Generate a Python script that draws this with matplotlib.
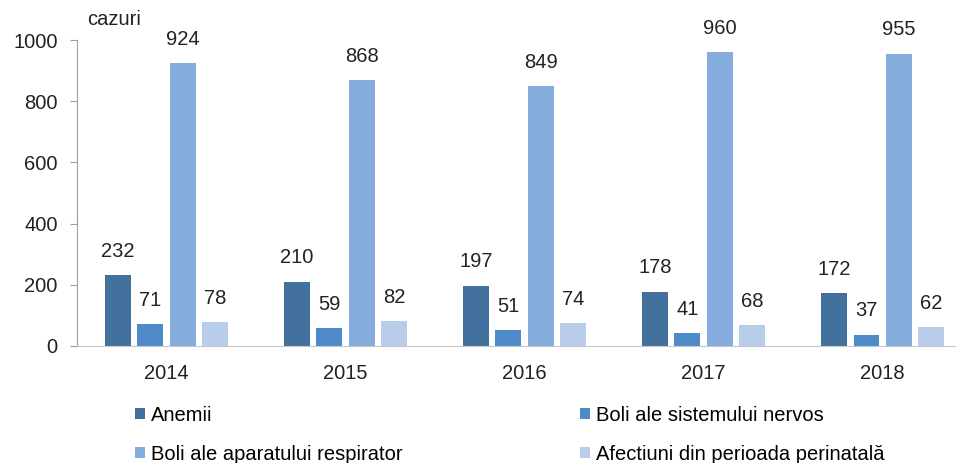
import numpy as np
import matplotlib.pyplot as plt

plt.rcParams['font.family'] = ['Liberation Sans', 'DejaVu Sans']

years = ['2014', '2015', '2016', '2017', '2018']
anemii = [232, 210, 197, 178, 172]
nervos = [71, 59, 51, 41, 37]
respirator = [924, 868, 849, 960, 955]
perinatal = [78, 82, 74, 68, 62]
labels = ['Anemii', 'Boli ale sistemului nervos',
          'Boli ale aparatului respirator', 'Afectiuni din perioada perinatală']
colors = ['#41719c', '#4e8ac8', '#84acdc', '#b8cde9']

fs = 14.5
fig = plt.figure(figsize=(9.56, 4.63), dpi=100)
ax = fig.add_axes([0.0805, 0.2527, 0.9195, 0.6609])

x = np.arange(len(years))
w = 0.145
step = 0.18
series = [anemii, nervos, respirator, perinatal]
bars = []
for i, (vals, c) in enumerate(zip(series, colors)):
    b = ax.bar(x + (i - 1.5) * step, vals, w, color=c, label=labels[i])
    bars.append(b)
    for xi, v in zip(x + (i - 1.5) * step, vals):
        ax.text(xi, v + 78, str(v), ha='center', va='center', fontsize=fs, color='#222222')

ax.set_ylim(0, 1000)
ax.set_xlim(-0.5, 4.41)
ax.set_yticks(range(0, 1001, 200))
ax.set_xticks(x)
ax.set_xticklabels(years)
ax.tick_params(axis='y', labelsize=fs, length=5, color='#a0a0a0', pad=9, labelcolor='#222222')
ax.tick_params(axis='x', labelsize=fs, length=0, pad=13, labelcolor='#222222')
for s in ['top', 'right']:
    ax.spines[s].set_visible(False)
ax.spines['left'].set_color('#a0a0a0')
ax.spines['bottom'].set_color('#c8c8c8')

fig.text(0.091, 0.958, 'cazuri', fontsize=fs, color='#222222', va='center')

# row-major order like the original legend
order = [0, 2, 1, 3]
fig.legend(handles=[bars[k] for k in order], labels=[labels[k] for k in order],
           ncol=2, loc='upper left',
           bbox_to_anchor=(0.141, 0.124), frameon=False, fontsize=fs,
           handlelength=0.5, handleheight=0.5, handletextpad=0.3,
           columnspacing=8.8, labelspacing=1.0, borderaxespad=0, borderpad=0)

fig.savefig('out.png', dpi=100)
